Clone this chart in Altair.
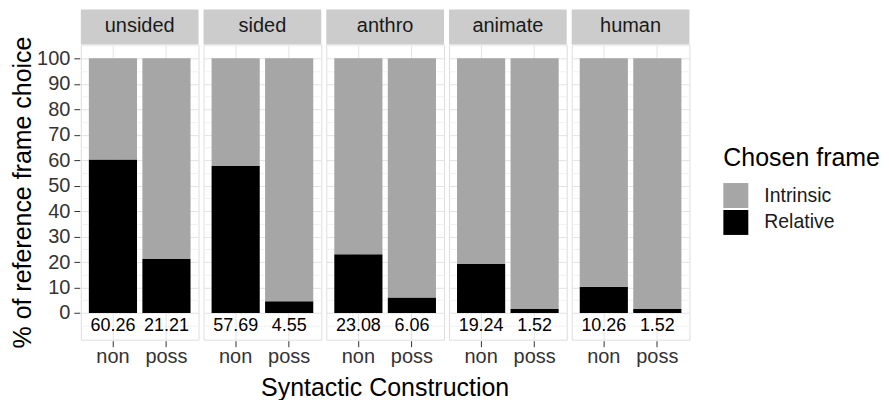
import altair as alt
import pandas as pd

groups = ["unsided", "sided", "anthro", "animate", "human"]
constructions = ["non", "poss"]
frames = ["Intrinsic", "Relative"]
relative = [60.26, 21.21, 57.69, 4.55, 23.08, 6.06, 19.24, 1.52, 10.26, 1.52]
intrinsic = [39.74, 78.79, 42.31, 95.45, 76.92, 93.94, 80.76, 98.48, 89.74, 98.48]
y_breaks = list(range(-5, 110, 5))

rows = []
i = 0
for g in groups:
    for c in constructions:
        rows.append({"group": g, "construction": c, "frame": "Relative", "pct": relative[i], "stack_order": 0})
        rows.append({"group": g, "construction": c, "frame": "Intrinsic", "pct": intrinsic[i], "stack_order": 1})
        i += 1
df = pd.DataFrame(rows)

FONT = "Liberation Sans"
PW = 118
PH = 296
STRIP = 35

major_test = "datum.value % 10 == 0 && datum.value >= 0 && datum.value <= 100"

x_scale = alt.Scale(paddingInner=0.1, paddingOuter=0.15)
x_axis = alt.Axis(
    title=None, bandPosition=0.5, grid=True, gridColor="#e3e3e3", gridWidth=1,
    labelFontSize=20, labelColor="#333333", tickColor="#333333", tickSize=6,
    labelPadding=0, domain=False, labelAngle=0, labelFont=FONT,
)
y_scale = alt.Scale(domain=[-10.5, 105.5], nice=False, zero=False)
y_axis = alt.Axis(
    title="% of reference frame choice", values=y_breaks,
    labelExpr="(datum.value % 10 == 0 && datum.value >= 0 && datum.value <= 100) ? datum.label : ''",
    labelOverlap=False,
    grid=True,
    gridColor={"condition": {"test": major_test, "value": "#e3e3e3"}, "value": "#f1f1f1"},
    tickColor={"condition": {"test": major_test, "value": "#333333"}, "value": "transparent"},
    tickSize=6, labelPadding=4, labelFontSize=20,
    labelColor="#333333", titleFontSize=25, titleFontWeight="normal",
    titleColor="black", titlePadding=1, domain=False, labelFont=FONT, titleFont=FONT,
)

one_row = "datum.construction == 'non' && datum.frame == 'Relative'"

strip = alt.Chart().mark_rect(color="#cccccc").encode(
    x=alt.value(0), x2=alt.value(PW), y=alt.value(-STRIP), y2=alt.value(0)
).transform_filter(one_row)

strip_text = alt.Chart().mark_text(fontSize=20, color="#1a1a1a", font=FONT, baseline="middle").encode(
    x=alt.value(PW / 2), y=alt.value(-STRIP / 2 - 1), text="group:N"
).transform_filter(one_row)

bars = alt.Chart().mark_bar().encode(
    x=alt.X("construction:N", sort=constructions, scale=x_scale, axis=x_axis),
    y=alt.Y("pct:Q", stack="zero", scale=y_scale, axis=y_axis),
    color=alt.Color(
        "frame:N",
        scale=alt.Scale(domain=frames, range=["#a6a6a6", "#000000"]),
        legend=alt.Legend(
            title="Chosen frame", orient="none", legendX=644, legendY=102,
            titleFontSize=25, titleFontWeight="normal", titleColor="black", titleFont=FONT,
            labelFontSize=19.5, labelColor="#1a1a1a", labelFont=FONT,
            symbolType="square", symbolSize=625, symbolStrokeWidth=0,
            rowPadding=2, titlePadding=12, labelOffset=16,
        ),
    ),
    order=alt.Order("stack_order:Q"),
)

labels = alt.Chart().mark_text(fontSize=18, color="black", font=FONT, baseline="middle").encode(
    x=alt.X("construction:N", sort=constructions, scale=x_scale, axis=x_axis),
    y=alt.YDatum(-5, scale=y_scale, axis=y_axis),
    text=alt.Text("pct:Q", format=".2f"),
).transform_filter("datum.frame == 'Relative'")

chart = alt.layer(strip, strip_text, bars, labels, data=df).properties(
    width=PW, height=PH
).facet(
    column=alt.Column(
        "group:N", sort=groups,
        header=alt.Header(
            labels=False, title="Syntactic Construction", titleOrient="bottom",
            titleFontSize=25, titleFontWeight="normal", titleColor="black", titleFont=FONT,
            titlePadding=-1,
        ),
    ),
    spacing=3,
).properties(
    padding={"left": 2, "top": 0, "right": 0, "bottom": 0}
).configure_view(
    stroke="#d4d4d4", strokeWidth=1
).configure(background="white")

chart.save("out.html", embed_options={"renderer": "svg", "actions": False})
